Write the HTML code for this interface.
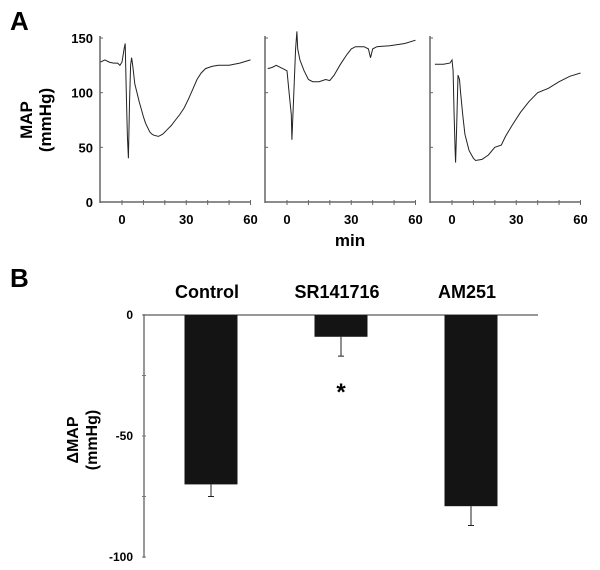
<!DOCTYPE html>
<html><head><meta charset="utf-8"><style>
html,body{margin:0;padding:0;background:#fff;}
svg{display:block;font-family:"Liberation Sans",Arial,sans-serif;}
</style></head><body>
<svg id="fig" width="600" height="570" viewBox="0 0 600 570">
<text x="10" y="30" font-size="26" font-weight="bold">A</text>
<text x="10" y="287" font-size="26" font-weight="bold">B</text>
<g id="panelA"></g>
<g id="panelB"></g>
</svg>
<script>
// ---- Panel A data ----
const traceControlT = [-10,-8,-6,-4,-2,-1,0,1,1.5,2,2.5,3,3.5,4,4.5,5,6,7,8,9,10,11,12,13,14,15,17,19,21,23,25,27,29,31,33,35,37,39,42,45,50,55,60];
const traceControlV = [128,130,128,127,127,125,128,140,145,100,60,40,90,125,132,125,108,100,92,85,78,72,68,64,62,61,60,62,66,70,75,80,86,94,103,112,118,122,124,125,125,127,130];
const traceSRT = [-9,-7,-5,-4,-2,0,1,2,2.3,3,4,4.6,5,6,8,10,12,15,18,20,22,25,28,30,32,36,38,39,40,42,48,55,60];
const traceSRV = [122,123,125,124,122,120,100,80,57,90,140,156,140,130,120,112,110,110,112,111,116,126,135,140,142,142,140,132,140,142,143,145,148];
const traceAMT = [-8,-4,-1,0,0.5,1,1.5,1.7,2.2,2.8,3.5,4,5,6,8,10,11,14,17,20,23,25,28,32,36,40,45,50,55,60];
const traceAMV = [126,126,127,130,120,80,45,36,70,116,112,100,80,62,47,40,38,39,43,50,52,60,70,82,92,100,104,110,115,118];
const xTicksA = [0,30,60];
const yTicksA = [0,50,100,150];
// ---- Panel B data ----
const groups = ["Control","SR141716","AM251"];
const means = [-70,-9,-79];
const errs = [5,8,8];
const yTicksB = [0,-50,-100];

const NS="http://www.w3.org/2000/svg";
function mk(tag,attrs,parent){const e=document.createElementNS(NS,tag);for(const k in attrs)e.setAttribute(k,attrs[k]);parent.appendChild(e);return e;}

const A=document.getElementById('panelA');
const panels=[{ax:100,t:traceControlT,v:traceControlV,labels:true},{ax:265,t:traceSRT,v:traceSRV,labels:false},{ax:430,t:traceAMT,v:traceAMV,labels:false}];
const yA=v=>202-v*(164/150);
panels.forEach((p,i)=>{
  const x0=p.ax+22; const xA=t=>x0+t*(128.5/60);
  const g=mk('g',{},A);
  
  
  const ya=mk('line',{x1:p.ax,y1:36,x2:p.ax,y2:203,stroke:'#666','stroke-width':1.5},g);
  
  
  const xa=mk('line',{x1:p.ax,y1:202,x2:xA(60),y2:202,stroke:'#666','stroke-width':1.5},g);
  
  
  for(let t=0;t<=60;t+=10){mk('line',{x1:xA(t),y1:200,x2:xA(t),y2:205,stroke:'#666','stroke-width':1},g);}
  yTicksA.forEach(v=>{mk('line',{x1:p.ax,y1:yA(v),x2:p.ax+3,y2:yA(v),stroke:'#666','stroke-width':1},g);
    if(p.labels){const tl=mk('text',{x:p.ax-7,y:yA(v)+5,'font-size':13,'font-weight':'bold','text-anchor':'end'},g);tl.textContent=v;
      
      }
  });
  xTicksA.forEach(t=>{const tl=mk('text',{x:xA(t),y:224,'font-size':13,'font-weight':'bold','text-anchor':'middle'},g);tl.textContent=t;
    
    });
  const d=p.t.map((t,j)=>(j?'L':'M')+xA(t).toFixed(1)+','+yA(p.v[j]).toFixed(1)).join('');
  const path=mk('path',{d:d,fill:'none',stroke:'#222','stroke-width':1},g);
  
  
});
let t1=mk('text',{transform:'translate(32,120) rotate(-90)','font-size':17,'font-weight':'bold','text-anchor':'middle'},A);t1.textContent='MAP';


let t2=mk('text',{transform:'translate(51,120) rotate(-90)','font-size':17,'font-weight':'bold','text-anchor':'middle'},A);t2.textContent='(mmHg)';


let t3=mk('text',{x:350,y:246,'font-size':17,'font-weight':'bold','text-anchor':'middle'},A);t3.textContent='min';



// Panel B
const B=document.getElementById('panelB');
const yB=v=>315-v*2.42;
const cx=i=>211+i*130;
const byax=mk('line',{x1:144,y1:314,x2:144,y2:558,stroke:'#777','stroke-width':1.5},B);


const bxax=mk('line',{x1:143,y1:315,x2:538,y2:315,stroke:'#777','stroke-width':1.5},B);


[0,-25,-50,-75,-100].forEach(v=>mk('line',{x1:142,y1:yB(v),x2:146,y2:yB(v),stroke:'#777','stroke-width':1},B));
yTicksB.forEach(v=>{const tl=mk('text',{x:133,y:yB(v)+4,'font-size':12,'font-weight':'bold','text-anchor':'end'},B);tl.textContent=v;
  
  });
groups.forEach((gname,i)=>{
  const top=yB(0),bot=yB(means[i]);
  const r=mk('rect',{x:cx(i)-26.5,y:top,width:53,height:bot-top,fill:'#141414'},B);
  
  
  const eb=yB(means[i]-errs[i]);
  const e=mk('path',{d:`M${cx(i)},${bot}V${eb}M${cx(i)-3},${eb}H${cx(i)+3}`,stroke:'#222','stroke-width':1,fill:'none'},B);
  
  
  const l=mk('text',{x:cx(i)-4,y:298,'font-size':18,'font-weight':'bold','text-anchor':'middle'},B);l.textContent=gname;
  
  
});
const star=mk('text',{x:cx(1),y:400,'font-size':24,'font-weight':'bold','text-anchor':'middle'},B);star.textContent='*';


let b1=mk('text',{transform:'translate(78,440) rotate(-90)','font-size':16,'font-weight':'bold','text-anchor':'middle'},B);b1.textContent='ΔMAP';


let b2=mk('text',{transform:'translate(97,440) rotate(-90)','font-size':16,'font-weight':'bold','text-anchor':'middle'},B);b2.textContent='(mmHg)';


</script>
</body></html>
